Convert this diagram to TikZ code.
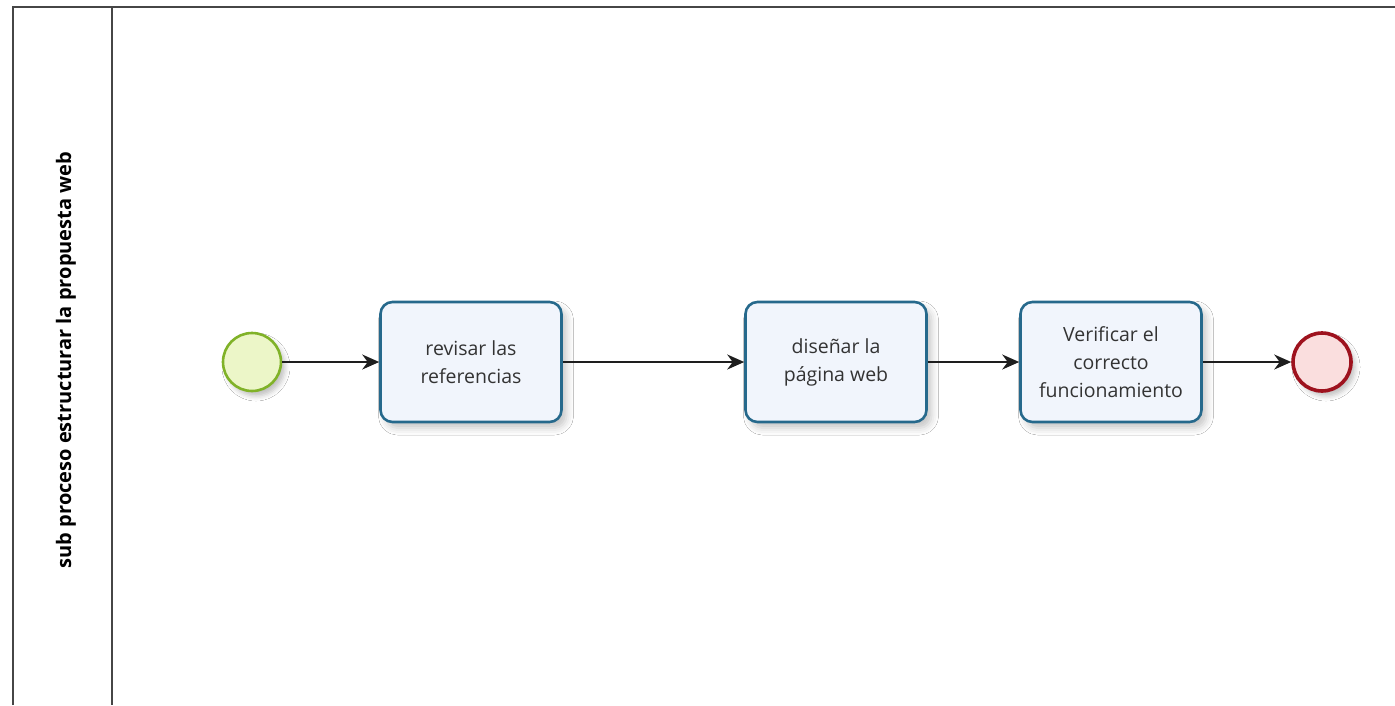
\documentclass[tikz,border=0pt]{standalone}
\usepackage{fontspec}
\setmainfont{Open Sans}
\usetikzlibrary{arrows.meta,shadows.blur}
\definecolor{taskline}{RGB}{38,105,140}
\definecolor{taskfill}{RGB}{241,245,252}
\definecolor{startline}{RGB}{128,178,40}
\definecolor{startfill}{RGB}{236,246,200}
\definecolor{endline}{RGB}{158,18,30}
\definecolor{endfill}{RGB}{250,222,222}
\definecolor{poolline}{RGB}{70,70,70}
\definecolor{flowline}{RGB}{30,30,30}
\tikzset{
  taskbox/.style={draw=taskline, line width=2.6pt, fill=taskfill, rounded corners=12pt,
    minimum width=181pt, minimum height=120pt, align=center,
    font=\fontsize{19.5}{28}\selectfont, text=black!80,
    blur shadow={shadow xshift=5pt, shadow yshift=-6pt, shadow blur radius=7pt, shadow opacity=22}},
  startev/.style={circle, draw=startline, line width=2.6pt, fill=startfill, minimum size=58pt,
    blur shadow={shadow xshift=4pt, shadow yshift=-5pt, shadow blur radius=5pt, shadow opacity=25}},
  endev/.style={circle, draw=endline, line width=3.6pt, fill=endfill, minimum size=58pt,
    blur shadow={shadow xshift=4pt, shadow yshift=-5pt, shadow blur radius=5pt, shadow opacity=25}},
  flow/.style={draw=flowline, line width=1.8pt, -{Stealth[length=17pt,width=15pt]}},
  pool/.style={draw=poolline, line width=2.2pt}
}
\begin{document}
\begin{tikzpicture}[x=1pt,y=-1pt]
  \useasboundingbox[fill=white] (0,0) rectangle (1395,705);
  % pool frame and lane header
  \draw[pool] (13,705) -- (13,7) -- (1395,7);
  \draw[pool] (112,7) -- (112,705);
  \node[rotate=90, font=\bfseries\fontsize{20}{24}\selectfont, text=black] (lane) at (66,360)
    {sub proceso estructurar la propuesta web};
  % flow elements
  \node[startev] (start) at (252,362) {};
  \node[taskbox] (t1) at (471,362) {revisar las\\referencias};
  \node[taskbox] (t2) at (836,362) {diseñar la\\página web};
  \node[taskbox] (t3) at (1111,362) {Verificar el\\correcto\\funcionamiento};
  \node[endev] (end) at (1322,362) {};
  % sequence flows
  \draw[flow] (start) -- (t1);
  \draw[flow] (t1) -- (t2);
  \draw[flow] (t2) -- (t3);
  \draw[flow] (t3) -- (end);
\end{tikzpicture}
\end{document}
